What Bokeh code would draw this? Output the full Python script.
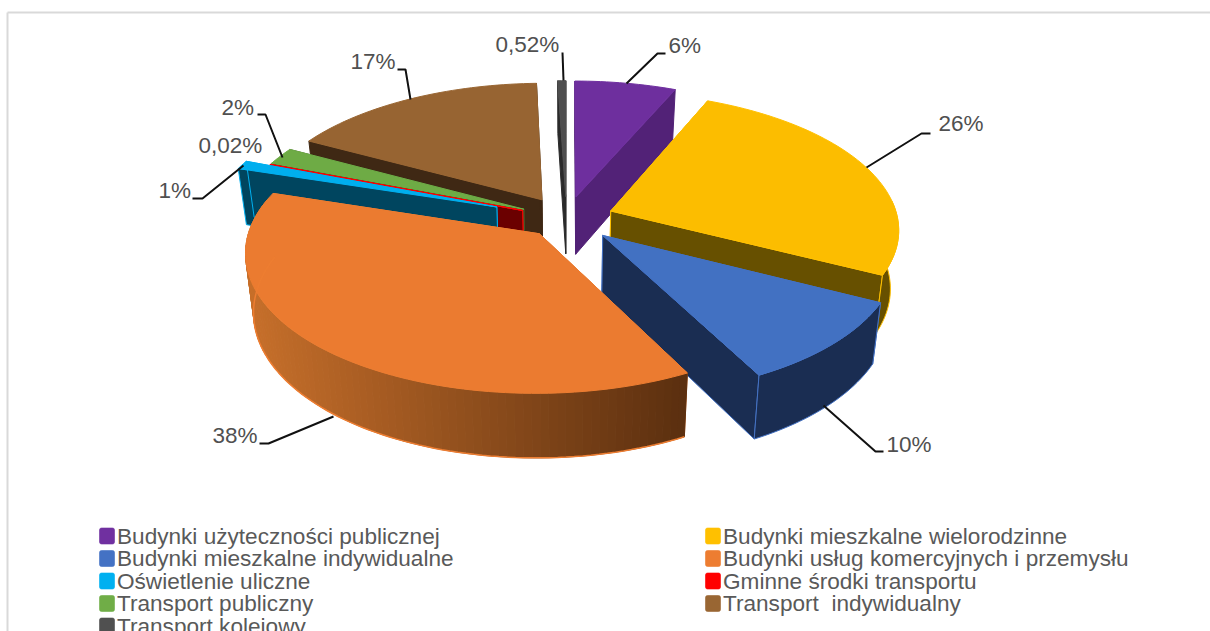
from math import sin, cos, radians
from bokeh.plotting import figure
from bokeh.models import ColumnDataSource
from bokeh.core.properties import value
from bokeh.embed import file_html
from bokeh.resources import INLINE

# ---- data ----
categories = ["Budynki użyteczności publicznej", "Budynki mieszkalne wielorodzinne",
              "Budynki mieszkalne indywidualne", "Budynki usług komercyjnych i przemysłu",
              "Oświetlenie uliczne", "Gminne środki transportu",
              "Transport publiczny", "Transport \u00a0indywidualny", "Transport kolejowy"]
shares = [6.49, 26.01, 9.86, 37.5, 1, 0.02, 2, 16.6, 0.52]
labels = ["6%", "26%", "10%", "38%", "1%", "0,02%", "2%", "17%", "0,52%"]

# ---- styles ----
top_colors = ["#7030A0", "#FFC000", "#4472C4", "#ED7D31", "#00B0F0", "#FF0000", "#70AD47", "#996633", "#505050"]
face_colors = ["#6E2F9E", "#FCBD00", "#4271C2", "#EB7B30", "#00AEEE", "#FC0000", "#6EAB45", "#976432", "#4E4E4E"]
wall_colors = ["#522277", "#675000", "#1A2D52", "#5F3110", "#00455F", "#6B0000", "#3F5A28", "#3F2814", "#2A2A2A"]
wall_lines = ["#522277", "#FFC000", "#4472C4", "#ED7D31", "#00B0F0", "#FF0000", "#3F5A28", "#3F2814", "#2A2A2A"]
explode = [0.165, 0.165, 0.175, 0.145, 0.26, 0.165, 0.165, 0.165, 0.165]
paint_order = [8, 0, 7, 6, 5, 4, 1, 2, 3]

CX, CY, RX, RY, K, DEPTH = 566, 218, 287, 135.5, 0.125, 58
W, H = 1210, 631
p = figure(width=W, height=H, x_range=(0, W), y_range=(H, 0), output_backend="svg",
           toolbar_location=None, min_border=0, outline_line_color=None)
p.axis.visible = False
p.grid.visible = False
p.background_fill_color = "white"
p.border_fill_color = "white"


def project(X, Y):
    s = 1 / (1 + K * Y)
    return CX + X * RX * s, CY - Y * RY * s, s


def lower(x, y, s):
    return CX + (x - CX) * 0.975, y + DEPTH * (1 + (s - 1) * 0.7)


total = sum(shares)
angles = [0.0]
for v in shares:
    angles.append(angles[-1] + v / total * 360)

xs, ys, fills, lines = [], [], [], []


def add(poly, fill, line):
    xs.append([a for a, _ in poly])
    ys.append([b for _, b in poly])
    fills.append(fill)
    lines.append(line)


edge_x, edge_y = [], []
for i in paint_order:
    a0, a1 = angles[i], angles[i + 1]
    mid = radians((a0 + a1) / 2)
    ox, oy = explode[i] * sin(mid), explode[i] * cos(mid)
    n = max(2, int((a1 - a0) / 1.5) + 1)
    th = [a0 + (a1 - a0) * j / n for j in range(n + 1)]
    arc = [project(ox + sin(radians(t)), oy + cos(radians(t))) for t in th]
    tip = project(ox, oy)
    tip_top = tip[:2]
    tip_low = lower(*tip)
    line = wall_lines[i]
    add([tip_top, arc[0][:2], lower(*arc[0]), tip_low], wall_colors[i], line)
    add([tip_top, arc[-1][:2], lower(*arc[-1]), tip_low], wall_colors[i], line)
    front = [a for a, t in zip(arc, th) if 85 <= t <= 285]
    if i == 3:
        for a, b in zip(front[:-1], front[1:]):
            f = min(1, max(0, ((a[0] + b[0]) / 2 - 243) / (682 - 243)))
            c0, c1 = (200, 112, 43), (92, 48, 16)
            col = "#%02x%02x%02x" % tuple(int(c0[q] + (c1[q] - c0[q]) * f) for q in range(3))
            add([a[:2], b[:2], lower(*b), lower(*a)], col, col)
        low = [lower(*a) for a in front]
        edge_x, edge_y = [q[0] for q in low], [q[1] for q in low]
    elif len(front) > 1:
        add([a[:2] for a in front] + [lower(*a) for a in reversed(front)], wall_colors[i], line)
    add([tip_top] + [a[:2] for a in arc], face_colors[i], top_colors[i])

src = ColumnDataSource(dict(xs=xs, ys=ys, fill=fills, line=lines))
p.patches("xs", "ys", source=src, fill_color="fill", line_color="line", line_width=1)
p.line(edge_x, edge_y, line_color="#ED7D31", line_width=1.5)

# ---- frame ----
p.segment([7, 7], [12, 12], [7, 1210], [631, 12], line_color="#D9D9D9", line_width=2)

# ---- leaders and labels ----
leaders = [[(626, 83), (657, 53), (665, 53)], [(866, 167), (921, 133), (930, 133)],
           [(823, 405), (875, 451), (883, 451)], [(333, 416), (268, 443), (259, 443)],
           [(243, 165), (202, 198), (192, 198)], [], [(282, 157), (265, 114), (257, 114)],
           [(410, 99), (405, 69), (397, 69)], [(563, 80), (562, 52)]]
for l in leaders:
    if l:
        p.line([q[0] for q in l], [q[1] for q in l], line_color="#111111", line_width=2)

label_x = [668, 938, 886, 212, 158, 198, 221, 350, 495]
label_y = [45, 123, 444, 435, 190, 145, 107, 61, 44]
p.text(label_x, label_y, text=labels, text_font=value("Liberation Sans"), text_font_size="22.5px",
       text_color="#505050", text_baseline="middle", text_align="left")

# ---- legend ----
col_x = [99, 705]
row_y = [535.5, 558, 580.5, 603, 625.5]
for i, c in enumerate(categories):
    x = col_x[i % 2]
    y = row_y[i // 2]
    p.quad(left=[x], right=[x + 15], top=[y - 8], bottom=[y + 8], fill_color=top_colors[i],
           line_color=top_colors[i], line_alpha=0.6, border_radius=2)
    p.text([x + 17.5], [y], text=[c], text_font=value("Liberation Sans"), text_font_size="22.6px",
           text_color="#595959", text_baseline="middle", text_align="left")

open("out.html", "w").write(file_html(p, INLINE))
